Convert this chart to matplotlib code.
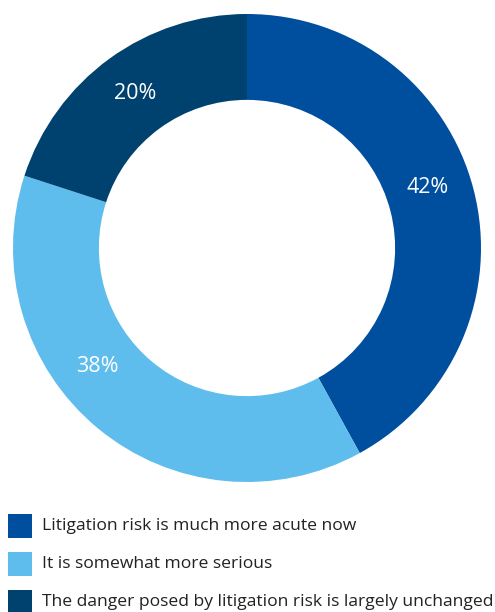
import numpy as np
import matplotlib.pyplot as plt
from matplotlib.patches import Rectangle

labels = [
    "Litigation risk is much more acute now",
    "It is somewhat more serious",
    "The danger posed by litigation risk is largely unchanged",
]
shares = [42, 38, 20]
colors = ["#004f9f", "#5ebdec", "#00426f"]

# nudges (degrees) for the percentage labels along the ring
label_shift = [4, -12, 0]

plt.rcParams["font.family"] = ["Open Sans", "DejaVu Sans"]

fig = plt.figure(figsize=(4.95, 6.12), dpi=100)
W, H = 495, 612
cx, cy, r = 247, 248, 234
ax = fig.add_axes([(cx - r) / W, (H - cy - r) / H, 2 * r / W, 2 * r / H])

wedges, texts, autotexts = ax.pie(
    shares,
    colors=colors,
    startangle=90,
    counterclock=False,
    radius=1.0,
    wedgeprops=dict(width=0.367, linewidth=0),
    autopct="%d%%",
    pctdistance=0.815,
    textprops=dict(color="white", fontsize=15.5),
)
for w, t, d in zip(wedges, autotexts, label_shift):
    ang = np.deg2rad((w.theta1 + w.theta2) / 2 + d)
    t.set_position((0.815 * np.cos(ang), 0.815 * np.sin(ang)))

ax.set_xlim(-1, 1)
ax.set_ylim(-1, 1)
ax.set_aspect("equal")
ax.axis("off")

# legend: colour squares with text to the right
for i, (lab, c) in enumerate(zip(labels, colors)):
    top = 514 + 38 * i
    fig.add_artist(Rectangle((8 / W, 1 - (top + 24) / H), 24 / W, 24 / H,
                             transform=fig.transFigure, facecolor=c,
                             edgecolor="none"))
    fig.text(42 / W, 1 - (top + 12) / H, lab, fontsize=12.6,
             color="#222222", va="center", ha="left")

fig.savefig("out.png", dpi=100)
